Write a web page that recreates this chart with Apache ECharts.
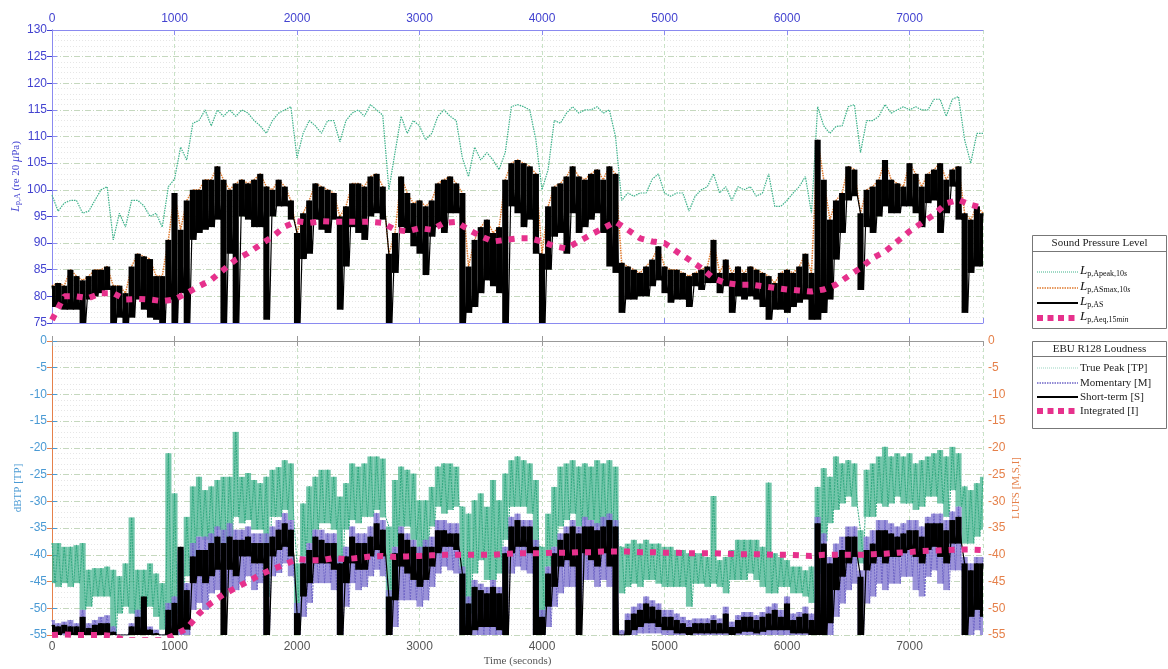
<!DOCTYPE html>
<html><head><meta charset="utf-8">
<script src="https://cdn.jsdelivr.net/npm/echarts@6/dist/echarts.min.js"></script>
<style>html,body{margin:0;padding:0;background:#fff}#c{width:1168px;height:669px}</style>
</head><body><div id="c"></div>
<script>
// ---- sample times (s) ----
const TIME = [
0,50,100,150,200,250,300,350,400,450,
500,550,600,650,700,750,800,850,900,950,
1000,1050,1100,1150,1200,1250,1300,1350,1400,1450,
1500,1550,1600,1650,1700,1750,1800,1850,1900,1950,
2000,2050,2100,2150,2200,2250,2300,2350,2400,2450,
2500,2550,2600,2650,2700,2750,2800,2850,2900,2950,
3000,3050,3100,3150,3200,3250,3300,3350,3400,3450,
3500,3550,3600,3650,3700,3750,3800,3850,3900,3950,
4000,4050,4100,4150,4200,4250,4300,4350,4400,4450,
4500,4550,4600,4650,4700,4750,4800,4850,4900,4950,
5000,5050,5100,5150,5200,5250,5300,5350,5400,5450,
5500,5550,5600,5650,5700,5750,5800,5850,5900,5950,
6000,6050,6100,6150,6200,6250,6300,6350,6400,6450,
6500,6550,6600,6650,6700,6750,6800,6850,6900,6950,
7000,7050,7100,7150,7200,7250,7300,7350,7400,7450,
7500,7550,7600];

// ---- Sound pressure level (dB re 20 uPa) ----
const APEAK = [
99,96,97.5,98,98,95.6,96,98,100,100.6,
90.6,95.6,93,98,98,97,95,95.6,93,100.6,
102,108,105.6,112.5,113,115,112,115,113.8,115,
113.8,115,114.4,113,112,110.6,113,114.4,115,115.6,
106,110.6,113,112,110.6,113,113,109,113,114.4,
115,113.8,116,115,114,100,107,113.8,110.6,113,
112,109.4,110.6,113.8,115,113.8,113,106,102.5,108,
105.6,107,105.6,103.8,107,115.6,116,115.6,115,109.4,
100,103.8,113,112.5,114.4,115.6,114.4,115,115,115.6,
114.4,115,110,98,99.4,98.8,99.4,99.4,102,103,
99.4,98.8,99.4,99.4,96,98.8,100,100.6,103,99.4,
100.6,98,100.6,100,100.6,98.8,99.4,103,96.9,96.9,
98,99.4,100.6,102.5,95.6,115.6,112,110.6,111.9,112,
115.6,116,107,113,113,113.8,116,114.4,115,115.6,
115,115.6,115,115,117,117,113.8,117,117.5,109.4,
105,110.6,110.6];
const LAS_HI = [
82,82.5,82,85,83.8,83,83.8,85,85,85.6,
82,82,80.6,85.6,88,87.5,87,83.8,83.8,90.6,
99.4,92.5,98,100,100,101.9,101.9,104.4,101.9,100,
101.2,101.9,101.2,101.9,103,100.6,100,101.9,100.6,98,
91.9,95.6,98,101.2,100.6,100,99.4,95,96.9,101.2,
101.2,100.6,102.5,103,100.6,88,91.9,102.5,99.4,97.5,
98,96.9,98,101.2,101.9,102.5,101.2,99.4,85.6,90.6,
93,94.4,91.9,93,101.9,105,105.6,105,104.4,103,
88,96.9,100.6,101.2,102.5,104.4,102.5,101.9,103,103.8,
101.9,104.4,103,86.3,85.6,85,84.4,85.6,86.9,89.4,
85.6,85,85,84.4,83.8,84.4,85,85.6,90.6,84.4,
86.9,84.4,85.6,84.4,85.6,85,84.4,83.8,82.5,84.4,
85,84.4,85.6,88,84.4,109.4,101.9,94.4,98,99.4,
104.4,103.8,95.6,100,100.6,101.9,105.6,101.9,101.2,100.6,
105,103,100.6,103,103.8,105,101.9,103.8,104.4,95.6,
94.4,96.9,95.6];
const LAS_LO = [
78,78,77.5,77.5,77.5,75,79.4,80,80.6,81.2,
75,76,75,76,79.4,77.5,76,75.6,75,79.4,
75,80.6,75,90.6,91.9,92.5,93,94.4,75,88,
75,95,94.4,93,93,75.6,95,96.9,96.9,94.4,
75,87,88,94.4,92.5,91.9,94.4,77.5,85.6,93,
91.9,90.6,95,95.6,94.4,75,84.4,93,91.9,89.4,
88,84,91.2,93,91.9,95.6,95.6,75,76.9,78,
80.6,83,81.9,80.6,75,96.9,95.6,93,94.4,88,
75,85,91.2,91.9,88,95.6,91.9,93,94.4,95.6,
91.9,85.6,84.4,76.9,79.4,79.4,80,80,81.9,83,
80.6,78.8,79.4,79.4,78,81.9,81.2,82.5,82.5,80.6,
81.9,76.9,80,79.4,80,79.4,78,75.6,77.5,77.5,
76.9,78,78.8,79.4,75.6,75.6,76.9,79.4,86.9,91.9,
98,98.8,81.2,93,91.9,95,96.9,95.6,95.6,96.9,
96.9,95.6,93,97.5,98,91.9,95.6,100.6,94.4,76.9,
84.4,85.6,85.6];
// LAeq,15min every 100 s
const LEQ = [
75.6,80,80,79.7,80.6,80.6,79.4,79.5,79.4,79.1,79.4,80.6,81.9,83.1,85,86.9,88.1,89.7,91.2,93.1,94.1,
93.8,94.1,94,94,94,94,93.8,
92.5,92.2,92.8,92.5,93.8,94,92.5,91.3,90.3,90.6,
90.9,90.9,90.3,89.4,89,90.3,91.6,92.8,94,92.5,
90.9,90.3,90,88.4,86.9,85.3,83.4,82.5,82.2,82.2,
81.9,81.6,81.3,81.1,80.9,
81.3,82.2,83.8,85.3,87.2,88.4,90.3,92.2,93.8,95.3,97.5,98.1,97.2,96.6];

// ---- EBU R128 loudness ----
const TP_HI = [
-37.8,-37.8,-38.5,-38.5,-38.2,-37.8,-42.8,-42.5,-42.5,-42.2,
-42.8,-44,-41.6,-33,-42.8,-42.8,-41.6,-43.5,-45.3,-21,
-28.5,-41.6,-32.9,-27.2,-25.4,-27.9,-27.2,-26,-25.4,-25.4,
-17,-25.4,-24.7,-26,-26.6,-25.4,-24.1,-23.6,-22.3,-22.9,
-41.6,-30.4,-27.2,-25.4,-24.1,-24.1,-25.4,-29.1,-26.6,-22.9,
-23.5,-22.9,-21.6,-21.6,-22,-34.7,-26,-23.5,-24.1,-24.8,
-29.8,-29.8,-27.3,-23.5,-22.9,-22.9,-23.5,-31,-32.3,-29.8,
-28.5,-31,-26,-29.8,-24.8,-22.3,-21.6,-22.3,-22.9,-26,
-38.5,-32.3,-27.3,-23.5,-22.9,-22.3,-23.5,-22.9,-23.5,-22.3,
-22.9,-22.3,-23.5,-38.5,-37.9,-37.2,-37.9,-37.2,-37.9,-37.9,
-38.5,-38.5,-39.1,-39.1,-39.7,-39.7,-39.7,-40.4,-29,-41,
-40.4,-39.1,-37.2,-37.2,-37.2,-37.2,-38.5,-26.5,-39.7,-40.4,
-41,-42.2,-42.2,-42.9,-42.2,-27.3,-23.8,-25.4,-21.6,-22.9,
-22.3,-22.9,-35.4,-24.1,-22.9,-21.6,-19.8,-21.6,-21,-21.6,
-21,-22.9,-22.3,-21.6,-21,-20.4,-21.6,-19.8,-21,-27.2,
-27.9,-26.6,-25.4];
const TP_LO = [
-45.3,-46,-45.3,-46,-45.3,-50.3,-49.7,-47.8,-47.8,-47.8,
-54.7,-51,-49.7,-51,-51.6,-49.7,-49.7,-51.6,-54,-52.8,
-51,-50.3,-44,-40.3,-36.6,-37.2,-37.8,-35.3,-37.8,-36.6,
-32.9,-34.1,-33.5,-35.3,-35.3,-47.8,-32.9,-32.9,-31.6,-33.5,
-54,-40.3,-37.8,-35.3,-34.1,-34.1,-35.3,-44,-35.3,-33.5,
-34.1,-32.9,-32.9,-31.6,-33,-51,-38.5,-34.7,-34.7,-37.2,
-39.7,-38.5,-34.7,-31,-32.3,-31.6,-31,-54.7,-51,-43.5,
-41,-44.7,-44.7,-43.5,-37.2,-31,-31,-31,-32.3,-38.5,
-54.7,-42.2,-38.5,-34.7,-33.5,-32.3,-34.7,-33.5,-33.5,-34.7,
-34.7,-36,-38.5,-47.2,-46,-45.4,-46,-44.7,-44.7,-45.4,
-46,-46,-46,-46,-49.7,-45.4,-45.4,-46,-45.4,-46,
-47.2,-44.7,-44.7,-44.7,-43.5,-44.7,-46,-47.2,-47.2,-46,
-46,-47.2,-47.2,-47.8,-49,-43.5,-37.5,-34.1,-31.6,-30.4,
-29.1,-31,-41.6,-32.9,-32.9,-30.4,-31,-30.4,-29.1,-30.4,
-30.4,-31.6,-31,-29.1,-29.1,-30.4,-32.9,-27.9,-31,-37.9,
-37.9,-36.6,-35.3];
const M_HI = [
-52.2,-52.8,-52.5,-52.2,-52.8,-50.3,-52.8,-52.2,-51.6,-51.3,
-53.4,-55,-55,-52.8,-50.3,-51.6,-53.4,-54,-55,-49,
-47.8,-39.1,-45.3,-37.8,-36.6,-36.6,-36,-34.7,-35.3,-34.1,
-35.3,-35.3,-34.7,-36,-36,-36,-34.7,-33.5,-32.2,-33.5,
-49,-40.3,-37.8,-35.3,-35.3,-36,-36,-40.3,-38.5,-34.7,
-36,-36,-34.7,-32.2,-33.5,-46.6,-38.5,-34.7,-36,-37.2,
-38.5,-37.2,-36.6,-33.5,-33.5,-34.1,-34.1,-42.2,-47.8,-44.7,
-45.4,-46,-44.7,-46,-38.5,-32.9,-32.3,-33.5,-33.5,-37.2,
-50.3,-42.2,-38.5,-36,-34.7,-33.5,-34.7,-32.9,-33.5,-34.1,
-32.9,-32.3,-33.5,-54.1,-51,-49.7,-49.1,-47.8,-48.5,-49.1,
-50.3,-50.3,-51,-51.6,-52.2,-51.9,-51.9,-51.9,-51.3,-51.9,
-49.7,-52.5,-51.3,-50.7,-50.7,-51.3,-50.7,-49.7,-49.1,-50.3,
-47.8,-51,-50.7,-49.7,-51,-32.9,-36,-40.4,-37.9,-36.6,
-34.7,-34.7,-42.9,-36.6,-35.4,-33.5,-33.5,-34.1,-34.7,-34.1,
-33.5,-33.5,-34.7,-32.9,-32.3,-32.3,-33.5,-31.9,-31,-40.4,
-41.6,-40.4,-40.4];
const M_LO = [
-55,-55,-55,-55,-55,-55,-55,-55,-55,-55,
-55,-55,-55,-55,-55,-55,-55,-55,-55,-55,
-55,-55,-55,-50.3,-49,-50.3,-47.2,-46.6,-47.8,-46.6,
-46.6,-45.3,-44,-46.6,-45.3,-55,-44,-43.4,-41.6,-44,
-55,-51.6,-49,-45.3,-45.3,-45.3,-46.6,-55,-49.7,-45.3,
-46.6,-46,-44,-42.8,-44,-55,-53.5,-48.5,-48.5,-48.5,
-49.7,-48.5,-46,-43.5,-42.2,-42.9,-43.5,-55,-55,-55,
-55,-55,-55,-55,-55,-43.5,-42.2,-42.9,-43.5,-55,
-55,-53.5,-49.7,-47.2,-46,-46,-49.7,-44.7,-44.7,-46,
-44.7,-46,-55,-55,-55,-55,-54.7,-54.7,-54.7,-54.7,
-55,-55,-55,-55,-55,-55,-55,-55,-55,-55,
-55,-55,-55,-55,-55,-55,-55,-55,-55,-55,
-55,-55,-55,-55,-55,-55,-55,-55,-51.6,-49.1,
-46.6,-45.4,-55,-49.1,-47.8,-45.4,-46.6,-45.4,-45.4,-44.1,
-44.1,-46.6,-47.8,-44.1,-42.9,-45.4,-46.6,-42.9,-42.9,-55,
-55,-54.1,-55];
const S_HI = [
-53.1,-53.4,-53.1,-53.4,-53.4,-51.6,-53.7,-53.1,-52.8,-52.8,
-54.4,-55,-55,-53.4,-51.6,-47.8,-54,-54.7,-55,-50.3,
-49,-38.5,-46.6,-40.3,-39.1,-39.1,-37.8,-36.6,-37.8,-36.6,
-37.2,-37.2,-36.6,-37.8,-37.8,-37.8,-36.6,-35.3,-34.1,-35.3,
-50.9,-41.6,-39.1,-36.6,-37.2,-37.8,-37.8,-41.6,-40.3,-36.6,
-37.8,-37.8,-36.6,-34.1,-35.3,-47.8,-39.7,-36,-37.2,-38.5,
-39.7,-38.5,-38.5,-35.4,-35.4,-36,-36,-43.5,-49.1,-46,
-46.6,-47.2,-46,-47.2,-39.7,-34.7,-33.5,-34.7,-34.7,-38.5,
-51.6,-43.5,-39.7,-37.2,-36,-34.7,-36,-34.7,-34.7,-35.4,
-34.7,-33.5,-34.7,-55,-52.2,-51,-50.3,-49.1,-49.7,-50.3,
-51.6,-51.6,-52.2,-52.8,-53.5,-52.8,-52.8,-52.8,-52.2,-52.8,
-51,-53.5,-52.2,-51.6,-51.6,-52.2,-51.6,-51,-50.3,-51.6,
-49.1,-52.2,-51.6,-51,-52.2,-34.1,-37.9,-41.6,-40.4,-39.1,
-36.6,-36.6,-44.1,-39.1,-37.9,-35.4,-35.4,-36,-36.6,-36,
-35.4,-35.4,-36.6,-34.1,-34.1,-34.1,-35.4,-33.5,-32.9,-41.6,
-42.9,-41.6,-41.6];
const S_LO = [
-55,-55,-54.7,-55,-55,-55,-55,-55,-55,-55,
-55,-55,-55,-55,-55,-55,-55,-55,-55,-55,
-55,-54,-54,-45.3,-44,-45.3,-44,-42.8,-55,-42.8,
-44,-40.3,-40.3,-41.6,-41.6,-55,-40.3,-39.1,-38.5,-40.3,
-55,-47.8,-45.3,-41.6,-41.6,-41.6,-42.8,-55,-45.3,-41.6,
-42.8,-42.8,-40.3,-39.1,-40.3,-55,-48.5,-42.2,-43.5,-44.7,
-46,-44.7,-42.2,-39.7,-38.5,-38.5,-39.1,-55,-55,-54.1,
-53.5,-53.5,-53.5,-54.1,-55,-39.7,-38.5,-38.5,-39.7,-55,
-55,-49.7,-46,-42.2,-41,-42.2,-55,-39.7,-41,-42.2,
-39.7,-42.2,-55,-55,-55,-54.1,-53.5,-52.8,-52.8,-53.5,
-54.1,-54.1,-54.7,-54.7,-55,-54.7,-54.7,-54.7,-54.7,-54.7,
-54.7,-55,-54.7,-54.4,-54.4,-54.7,-54.4,-54.1,-54.1,-54.1,
-54.1,-54.7,-54.7,-54.7,-55,-55,-55,-52.8,-46.6,-44.1,
-41.6,-40.4,-55,-42.9,-41.6,-40.4,-41.6,-40.4,-40.4,-39.7,
-39.1,-40.4,-41.6,-39.1,-38.5,-40.4,-41.6,-37.9,-37.9,-55,
-51.6,-50.3,-51.6];
// Integrated every 100 s
const INTEG = [
-55,-54.9,-55,-55,-55,-55.2,-56,-56,-56,-56,-55,-53.8,-51,-49,-47.4,-46.2,-45,-43.7,-42.7,-41.8,-40.8,
-41,-41,-40.6,-40.8,-40.6,-40.3,-40.2,
-40.4,-40.3,-40.2,-40.1,-40,-40,-40,-40,-40,-39.8,
-39.7,-39.7,-39.7,-39.6,-39.6,-39.5,-39.5,-39.4,-39.4,-39.4,
-39.5,-39.5,-39.6,-39.6,-39.7,-39.7,-39.7,-39.8,-39.9,-39.9,
-39.9,-40,-40,-40.1,-40.2,
-40,-40,-40,-40,-39.9,-39.8,-39.6,-39.5,-39.3,-39.2,-39.1,-39,-39,-39.1];

// ---- build series data from the arrays ----
const T100 = TIME.filter((t, i) => i % 2 === 0);
const pair = (ts, vs) => ts.map((t, i) => [t, vs[i]]);
const trip = (hi, lo) => TIME.map((t, i) => [t, lo[i], hi[i]]);
const zig = (hi, lo) => { const out = []; TIME.forEach((t, i) => { out.push([t, hi[i]]); if (i < TIME.length - 1) out.push([(t + TIME[i + 1]) / 2, lo[i]]); }); return out; };
const HALF = 25; // half sampling step (s)
function band(color, opacity) {
  return function (params, api) {
    const t = api.value(0), lo = api.value(1), hi = api.value(2);
    const p1 = api.coord([t - HALF, hi]), p2 = api.coord([t + HALF, lo]);
    const cs = params.coordSys;
    const r = echarts.graphic.clipRectByRect(
      { x: p1[0], y: p1[1], width: p2[0] - p1[0], height: Math.max(p2[1] - p1[1], 1.5) },
      { x: cs.x, y: cs.y, width: cs.width, height: cs.height });
    return r && { type: 'rect', shape: r, style: { fill: color, opacity: opacity } };
  };
}

const BLUE = '#4343d0', BLUE_LINE = '#8a8af0', LBLUE = '#4a9ad4', ORANGE = '#e5804a', GREY = '#9a9a9a';
const GREEN = '#3db28a', MAG = '#e6318c', PURP = '#6e64c6';
const majorGrid = { show: true, lineStyle: { color: '#c5d8be', width: 1, type: [6, 2, 1, 2] } };
const vGrid = { show: true, lineStyle: { color: '#c8e2c6', width: 1, type: [4, 3] } };
const minorGrid = { show: true, lineStyle: { color: '#e6e6e6', width: 1, type: [1, 2] } };
const serif = 'Liberation Serif';
const plain = v => String(v);

const chart = echarts.init(document.getElementById('c'), null, { renderer: 'canvas' });
const xBase = { type: 'value', min: 0, max: 7600, interval: 1000 };
const option = {
  animation: false,
  backgroundColor: '#fff',
  grid: [
    { left: 52, top: 30, width: 931, height: 293 },
    { left: 52, top: 341, width: 931, height: 294 }
  ],
  xAxis: [
    Object.assign({}, xBase, { gridIndex: 0, position: 'top',
      axisLine: { lineStyle: { color: BLUE_LINE } },
      axisTick: { inside: true, length: 5, lineStyle: { color: BLUE_LINE } },
      axisLabel: { color: BLUE, fontSize: 12, margin: 5, fontFamily: 'Liberation Sans', showMaxLabel: false, formatter: plain },
      splitLine: vGrid }),
    Object.assign({}, xBase, { gridIndex: 0, position: 'bottom',
      axisLine: { lineStyle: { color: BLUE_LINE } },
      axisTick: { inside: true, length: 5, lineStyle: { color: BLUE_LINE } },
      axisLabel: { show: false }, splitLine: { show: false } }),
    Object.assign({}, xBase, { gridIndex: 1, position: 'bottom',
      name: 'Time (seconds)', nameLocation: 'middle', nameGap: 21, nameMoveOverlap: false,
      nameTextStyle: { color: '#555', fontSize: 11, fontFamily: serif },
      axisLine: { lineStyle: { color: GREY } },
      axisTick: { inside: true, length: 5, lineStyle: { color: GREY } },
      axisLabel: { color: '#555', fontSize: 12, margin: 6, fontFamily: 'Liberation Sans', showMaxLabel: false, formatter: plain },
      splitLine: vGrid }),
    Object.assign({}, xBase, { gridIndex: 1, position: 'top',
      axisLine: { lineStyle: { color: GREY } },
      axisTick: { inside: true, length: 5, lineStyle: { color: GREY } },
      axisLabel: { show: false }, splitLine: { show: false } })
  ],
  yAxis: [
    { type: 'value', gridIndex: 0, position: 'left', min: 75, max: 130, interval: 5,
      name: '{i|L}{s|p,A} (re 20 {i|μ}Pa)', nameLocation: 'middle', nameGap: 30, nameRotate: 90, nameMoveOverlap: false,
      nameTextStyle: { color: BLUE, fontSize: 11, fontFamily: serif,
        rich: { i: { fontStyle: 'italic', fontSize: 12, fontFamily: serif, color: BLUE },
                s: { fontSize: 8, fontFamily: serif, color: BLUE, verticalAlign: 'bottom', lineHeight: 10 } } },
      axisLine: { show: true, lineStyle: { color: BLUE_LINE } },
      axisTick: { show: true, inside: true, length: 5, lineStyle: { color: BLUE_LINE } },
      axisLabel: { color: BLUE, fontSize: 12, margin: 5, fontFamily: 'Liberation Sans' },
      splitLine: majorGrid, minorTick: { show: false, splitNumber: 5 }, minorSplitLine: minorGrid },
    { type: 'value', gridIndex: 0, position: 'right', min: 75, max: 130, interval: 5,
      axisLine: { show: true, lineStyle: { color: BLUE_LINE } },
      axisTick: { show: true, inside: true, length: 5, lineStyle: { color: BLUE } },
      axisLabel: { show: false }, splitLine: { show: false } },
    { type: 'value', gridIndex: 1, position: 'left', min: -55, max: 0, interval: 5,
      name: 'dBTP [TP]', nameLocation: 'middle', nameGap: 28, nameRotate: 90, nameMoveOverlap: false,
      nameTextStyle: { color: LBLUE, fontSize: 11, fontFamily: serif },
      axisLine: { show: true, lineStyle: { color: LBLUE } },
      axisTick: { show: true, inside: true, length: 5, lineStyle: { color: LBLUE } },
      axisLabel: { color: LBLUE, fontSize: 12, margin: 5, fontFamily: 'Liberation Sans' },
      splitLine: majorGrid, minorTick: { show: false, splitNumber: 5 }, minorSplitLine: minorGrid },
    { type: 'value', gridIndex: 1, position: 'right', min: -55, max: 0, interval: 5,
      name: 'LUFS [M,S,I]', nameLocation: 'middle', nameGap: 28, nameRotate: 90, nameMoveOverlap: false,
      nameTextStyle: { color: ORANGE, fontSize: 11, fontFamily: serif },
      axisLine: { show: true, lineStyle: { color: ORANGE } },
      axisTick: { show: true, inside: true, length: 5, lineStyle: { color: ORANGE } },
      axisLabel: { color: ORANGE, fontSize: 12, margin: 5, fontFamily: 'Liberation Sans' },
      splitLine: { show: false } }
  ],
  series: [
    { name: 'Apeak', type: 'line', xAxisIndex: 0, yAxisIndex: 0, data: pair(TIME, APEAK), showSymbol: false, silent: true,
      lineStyle: { color: GREEN, width: 1.2, type: [1.5, 1] }, z: 2 },
    { name: 'ASmax', type: 'line', xAxisIndex: 0, yAxisIndex: 0, data: pair(TIME, LAS_HI), showSymbol: false, silent: true,
      lineStyle: { color: '#e07a2e', width: 1.5, type: [1.5, 1] }, z: 3 },
    { name: 'LAS band', type: 'custom', xAxisIndex: 0, yAxisIndex: 0, data: trip(LAS_HI, LAS_LO), silent: true,
      renderItem: band('#000', 1), encode: { x: 0, y: [1, 2] }, z: 4 },
    { name: 'LAS', type: 'line', xAxisIndex: 0, yAxisIndex: 0, data: zig(LAS_HI, LAS_LO), showSymbol: false, silent: true,
      lineStyle: { color: '#000', width: 1.2 }, z: 4 },
    { name: 'LAeq', type: 'line', xAxisIndex: 0, yAxisIndex: 0, data: pair(T100, LEQ), showSymbol: false, silent: true,
      lineStyle: { color: MAG, width: 6, type: [6, 7] }, z: 6 },

    { name: 'TP band', type: 'custom', xAxisIndex: 2, yAxisIndex: 2, data: trip(TP_HI, TP_LO), silent: true,
      renderItem: band('#3cb089', 0.72), encode: { x: 0, y: [1, 2] }, z: 2 },
    { name: 'TP', type: 'line', xAxisIndex: 2, yAxisIndex: 2, data: zig(TP_HI, TP_LO), showSymbol: false, silent: true,
      lineStyle: { color: '#30a87f', width: 1, type: [2, 1] }, z: 2 },
    { name: 'M band', type: 'custom', xAxisIndex: 2, yAxisIndex: 3, data: trip(M_HI, M_LO), silent: true,
      renderItem: band('#8a80d2', 0.85), encode: { x: 0, y: [1, 2] }, z: 3 },
    { name: 'M', type: 'line', xAxisIndex: 2, yAxisIndex: 3, data: zig(M_HI, M_LO), showSymbol: false, silent: true,
      lineStyle: { color: PURP, width: 1, type: [2, 1] }, z: 3 },
    { name: 'S band', type: 'custom', xAxisIndex: 2, yAxisIndex: 3, data: trip(S_HI, S_LO), silent: true,
      renderItem: band('#000', 1), encode: { x: 0, y: [1, 2] }, z: 4 },
    { name: 'S', type: 'line', xAxisIndex: 2, yAxisIndex: 3, data: zig(S_HI, S_LO), showSymbol: false, silent: true,
      lineStyle: { color: '#000', width: 1.2 }, z: 4 },
    { name: 'I', type: 'line', xAxisIndex: 2, yAxisIndex: 3, data: pair(T100, INTEG), showSymbol: false, silent: true,
      lineStyle: { color: MAG, width: 6, type: [6, 7] }, z: 6 }
  ],
  graphic: (function () {
    const els = [];
    const box = (y, h, sep, title) => {
      els.push({ type: 'rect', shape: { x: 1032.5, y: y + 0.5, width: 134, height: h }, style: { fill: '#fff', stroke: '#777', lineWidth: 1 }, z: 100 });
      els.push({ type: 'line', shape: { x1: 1032.5, y1: sep + 0.5, x2: 1166.5, y2: sep + 0.5 }, style: { stroke: '#777', lineWidth: 1 }, z: 101 });
      els.push({ type: 'text', x: 1099.5, y: (y + sep) / 2 + 0.5, style: { text: title, fill: '#222', font: '11px "Liberation Serif"', align: 'center', verticalAlign: 'middle' }, z: 101 });
    };
    const icon = (y, color, w, dash) => els.push({ type: 'line', shape: { x1: 1037, y1: y, x2: 1078, y2: y }, style: { stroke: color, lineWidth: w, lineDash: dash }, z: 101 });
    const label = (y, text, rich) => els.push({ type: 'text', x: 1080, y: y, style: { text: text, rich: rich, fill: '#222', font: '11px "Liberation Serif"', verticalAlign: 'middle', align: 'left' }, z: 101 });
    const sub = { i: { fontStyle: 'italic', fontSize: 13, fontFamily: serif, fill: '#111' },
                  s: { fontSize: 8, fontFamily: serif, fill: '#111', verticalAlign: 'bottom', lineHeight: 11, padding: [6, 0, 0, 0] },
                  si: { fontSize: 8, fontStyle: 'italic', fontFamily: serif, fill: '#111', verticalAlign: 'bottom', lineHeight: 11, padding: [6, 0, 0, 0] } };
    box(235, 93, 251, 'Sound Pressure Level');
    icon(272, GREEN, 1, [1, 1]);  label(271, '{i|L}{s|p,Apeak,10}{si|s}', sub);
    icon(288, '#e07a2e', 1.3, [1.5, 1]); label(287, '{i|L}{s|p,ASmax,10}{si|s}', sub);
    icon(303, '#000', 2, null);  label(302, '{i|L}{s|p,AS}', sub);
    icon(318, MAG, 6, [6, 4.5]); label(317, '{i|L}{s|p,Aeq,15}{si|min}', sub);
    box(341, 87, 356, 'EBU R128 Loudness');
    icon(368, '#9ad6c2', 1, [1, 1]); label(368, 'True Peak [TP]');
    icon(383, PURP, 1.3, [1.5, 1]);  label(383, 'Momentary [M]');
    icon(397, '#000', 2, null);      label(397, 'Short-term [S]');
    icon(411, MAG, 6, [6, 4.5]);     label(411, 'Integrated [I]');
    return els;
  })()
};
chart.setOption(option);
</script>
</body></html>
